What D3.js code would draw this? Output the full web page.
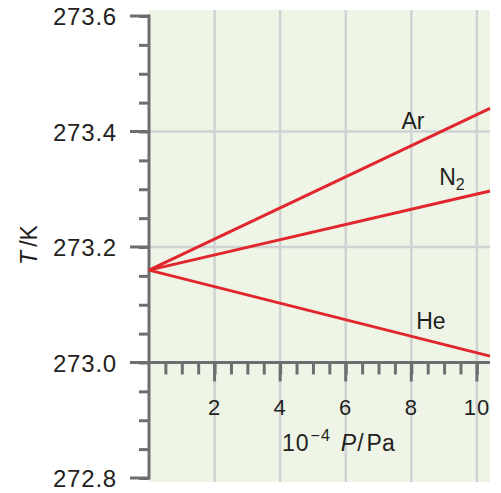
<!DOCTYPE html>
<html>
<head>
<meta charset="utf-8">
<script src="https://cdn.jsdelivr.net/npm/d3@7"></script>
<style>
  body { margin: 0; background: #fff; }
  text { font-family: "Liberation Sans", Arial, sans-serif; fill: #231f20; }
</style>
</head>
<body>
<svg width="501" height="493"></svg>
<script>
// pressure in units of 10^4 Pa, temperature in K
var pressure = [0, 10.4];
var gases = ["Ar", "N2", "He"];
var tAr = [273.16, 273.44];
var tN2 = [273.16, 273.297];
var tHe = [273.16, 273.011];
var xTicks = [2, 4, 6, 8, 10];
var yTicks = [272.8, 273.0, 273.2, 273.4, 273.6];

var series = [tAr, tN2, tHe];

var svg = d3.select("svg");

var x = d3.scaleLinear().domain([0, 10.4]).range([149, 490]);
var y = d3.scaleLinear().domain([272.8, 273.6]).range([478, 16]);

var grey = "#6d6e70",
    gridCol = "#cfd2d2",
    red = "#e1262d";

// plot background
svg.append("rect")
    .attr("x", x(0)).attr("y", y(273.6) - 6)
    .attr("width", x(10.4) - x(0))
    .attr("height", y(272.8) - y(273.6) + 10)
    .attr("fill", "#eef5e7");

// grid lines
svg.append("g").selectAll("line")
    .data(xTicks)
    .enter().append("line")
      .attr("x1", function(d) { return x(d); })
      .attr("x2", function(d) { return x(d); })
      .attr("y1", y(273.6) - 6)
      .attr("y2", y(272.8) + 4)
      .attr("stroke", gridCol)
      .attr("stroke-width", 2.5);

svg.append("g").selectAll("line")
    .data([273.2, 273.4])
    .enter().append("line")
      .attr("x1", x(0))
      .attr("x2", x(10.4))
      .attr("y1", function(d) { return y(d); })
      .attr("y2", function(d) { return y(d); })
      .attr("stroke", gridCol)
      .attr("stroke-width", 2.5);

// y axis
var yAxis = d3.axisLeft(y)
    .tickValues(d3.range(272.8, 273.601, 0.05))
    .tickSize(10)
    .tickFormat("");
var gy = svg.append("g")
    .attr("transform", "translate(" + x(0) + ",0)")
    .call(yAxis);
gy.select(".domain").remove();
gy.selectAll(".tick line").attr("stroke", grey).attr("stroke-width", 3);
gy.append("line")
    .attr("x1", 0).attr("x2", 0)
    .attr("y1", y(273.6) - 1.5).attr("y2", y(272.8) + 1.5)
    .attr("stroke", grey).attr("stroke-width", 3);

svg.append("g").selectAll("line")
    .data(yTicks)
    .enter().append("line")
      .attr("x1", x(0) - 19).attr("x2", x(0))
      .attr("y1", function(d) { return y(d); })
      .attr("y2", function(d) { return y(d); })
      .attr("stroke", grey).attr("stroke-width", 3);

svg.append("g").selectAll("text")
    .data(yTicks)
    .enter().append("text")
      .attr("x", 117)
      .attr("y", function(d) { return y(d) + 9; })
      .attr("text-anchor", "end")
      .attr("font-size", 24)
      .attr("letter-spacing", 0.8)
      .text(function(d) { return d.toFixed(1); });

// x axis along T = 273.0
var xAxis = d3.axisBottom(x)
    .tickValues(d3.range(0.5, 10.4, 0.5))
    .tickSize(12)
    .tickFormat("");
var gx = svg.append("g")
    .attr("transform", "translate(0," + y(273.0) + ")")
    .call(xAxis);
gx.select(".domain").remove();
gx.selectAll(".tick line").attr("stroke", grey).attr("stroke-width", 3);
gx.append("line")
    .attr("x1", x(0)).attr("x2", x(10.4))
    .attr("stroke", grey).attr("stroke-width", 3);

gx.selectAll(".major")
    .data(xTicks)
    .enter().append("line")
      .attr("x1", function(d) { return x(d); })
      .attr("x2", function(d) { return x(d); })
      .attr("y1", 0).attr("y2", 19)
      .attr("stroke", grey).attr("stroke-width", 3);

gx.selectAll(".lab")
    .data(xTicks)
    .enter().append("text")
      .attr("x", function(d) { return x(d); })
      .attr("y", 52)
      .attr("text-anchor", "middle")
      .attr("font-size", 22)
      .attr("letter-spacing", 1)
      .text(function(d) { return d; });

// axis titles
var xt = svg.append("text")
    .attr("x", 282).attr("y", 451)
    .attr("font-size", 23);
xt.append("tspan").attr("letter-spacing", 1).text("10");
xt.append("tspan").attr("dy", -10).attr("dx", 1).attr("font-size", 16).attr("letter-spacing", 1).text("\u22124");
xt.append("tspan").attr("dy", 10).attr("dx", 10).attr("font-style", "italic").text("P");
xt.append("tspan").attr("dx", 1).text("/");
xt.append("tspan").attr("dx", 3).text("Pa");

var yt = svg.append("text")
    .attr("transform", "translate(37,245) rotate(-90)")
    .attr("text-anchor", "middle")
    .attr("font-size", 23);
yt.append("tspan").attr("font-style", "italic").text("T");
yt.append("tspan").attr("dx", 4).text("/K");

// lines
var line = d3.line()
    .x(function(d, i) { return x(pressure[i]); })
    .y(function(d) { return y(d); });

svg.append("g").selectAll("path")
    .data(series)
    .enter().append("path")
      .attr("d", line)
      .attr("fill", "none")
      .attr("stroke", red)
      .attr("stroke-width", 3);

// line labels
var labelAt = [7.7, 8.85, 8.15];
var labelDy = [-21, -18, -9];
series.forEach(function(s, i) {
  var p = labelAt[i];
  var t = s[0] + (s[1] - s[0]) * p / pressure[1];
  var lab = svg.append("text")
      .attr("x", x(p))
      .attr("y", y(t) + labelDy[i])
      .attr("font-size", 23);
  if (gases[i] === "N2") {
    lab.append("tspan").text("N");
    lab.append("tspan").attr("dy", 5).attr("font-size", 16).text("2");
  } else {
    lab.text(gases[i]);
  }
});
</script>
</body>
</html>
